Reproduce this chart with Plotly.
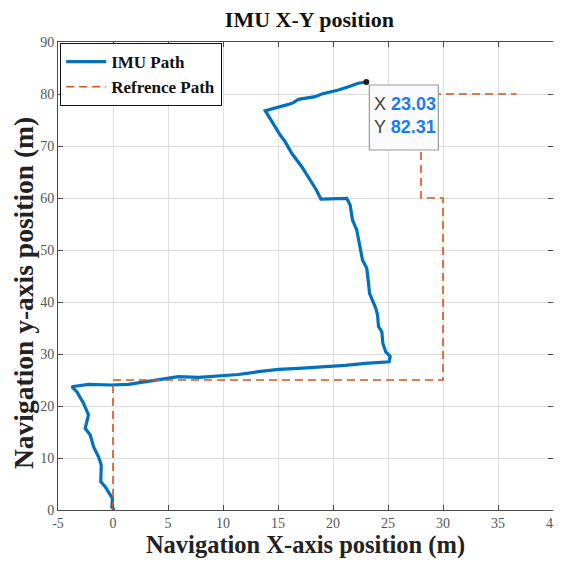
import plotly.graph_objects as go

# IMU path
imu_x = [0.10, -0.11, -0.05, -0.25, -0.71, -1.11, -1.07, -1.32, -1.77, -2.07, -2.53, -2.23, -2.68,
         -3.29, -3.75, -2.23, -0.14, 1.41, 2.02, 3.23, 5.95, 7.8, 11.4, 13.23, 15.05, 16.86, 21.1,
         22.93, 25.1, 25.2, 24.8, 24.53, 24.44, 24.14, 24.05, 23.89, 23.59, 23.32, 23.23, 23.07,
         22.68, 22.47, 22.16, 21.77, 21.56, 21.25, 18.9, 18.5, 17.93, 17.16, 16.25, 15.65, 15.2,
         14.44, 13.84, 15.95, 16.41, 16.86, 18.38, 18.98, 20.5, 21.4, 22.3, 23.03]
imu_y = [0.0, 0.63, 2.25, 2.88, 4.48, 5.44, 8.65, 10.25, 12.17, 14.42, 15.71, 18.27, 20.52,
         22.75, 23.71, 24.17, 24.04, 24.17, 24.37, 24.87, 25.63, 25.5, 26.06, 26.6, 27.06, 27.25, 27.8,
         28.2, 28.5, 29.5, 30.4, 32.06, 34.29, 35.25, 37.5, 38.79, 40.38, 41.67, 43.6, 46.48,
         48.08, 50.33, 53.85, 55.77, 58.65, 59.94, 59.8, 61.5, 63.46, 66.02, 68.6, 70.83, 72.1,
         74.67, 76.79, 78.0, 78.33, 78.98, 79.48, 80.0, 80.77, 81.4, 82.06, 82.31]

# Reference path
ref_x = [0, 0, 30, 30, 28, 28, 36.7]
ref_y = [0, 25, 25, 60, 60, 80, 80]

# Data tip
tip_x = 23.03
tip_y = 82.31

x_ticks = [-5, 0, 5, 10, 15, 20, 25, 30, 35, 40]
y_ticks = [0, 10, 20, 30, 40, 50, 60, 70, 80, 90]

serif = "Liberation Serif"

fig = go.Figure()
fig.add_trace(go.Scatter(x=imu_x, y=imu_y, mode="lines", name="<b>IMU Path</b>",
                         line=dict(color="#0072BD", width=3.2)))
fig.add_trace(go.Scatter(x=ref_x, y=ref_y, mode="lines", name="<b>Refrence Path</b>",
                         line=dict(color="#D95319", width=1.6, dash="8px,5px")))
fig.add_trace(go.Scatter(x=[tip_x], y=[tip_y], mode="markers", showlegend=False,
                         marker=dict(color="#222222", size=6)))

# data tip box
fig.add_shape(type="rect", xref="x", yref="y", xsizemode="pixel", ysizemode="pixel",
              xanchor=tip_x, yanchor=tip_y, x0=3, x1=72, y0=-3, y1=-68,
              fillcolor="#fbfbfe", line=dict(color="#9a9a9a", width=1.2), layer="above")
fig.add_annotation(x=tip_x, y=tip_y, xref="x", yref="y", showarrow=False,
                   xanchor="left", yanchor="top", xshift=6, yshift=-10, align="left",
                   text=("<span style='color:#404040'>X</span> <b><span style='color:#1a7cf5'>23.03</span></b><br>"
                         "<span style='color:#404040'>Y</span> <b><span style='color:#1a7cf5'>82.31</span></b>"),
                   font=dict(family="Liberation Sans", size=18))

# y-axis title as annotation (sits slightly below plot centre)
fig.add_annotation(x=0, y=0.5, xref="paper", yref="paper", showarrow=False,
                   xanchor="center", yanchor="middle", xshift=-35, yshift=-17,
                   textangle=-90, text="<b>Navigation y-axis position (m)</b>",
                   font=dict(family=serif, size=27.5, color="#222222"))

axis_common = dict(showgrid=True, gridcolor="#dedede", gridwidth=1, zeroline=False,
                   showline=True, linecolor="#4a4a4a", linewidth=1, mirror="ticks",
                   ticks="inside", ticklen=5, tickcolor="#4a4a4a", ticklabeloverflow="allow",
                   automargin=False,
                   tickfont=dict(family=serif, size=14, color="#555555"))

# page body adds an 8px margin, so the figure is drawn 8px smaller and offset
fig.update_layout(
    width=553, height=567,
    margin=dict(l=50, r=8, t=34, b=65),
    paper_bgcolor="white", plot_bgcolor="white",
    title=dict(text="<b>IMU X-Y position</b>", x=0.545, xanchor="center",
               y=1 - 11 / 567, yanchor="middle", yref="container",
               font=dict(family=serif, size=22, color="#111111")),
    xaxis=dict(range=[-5, 40], tickvals=x_ticks, ticktext=[str(v) for v in x_ticks],
               title=dict(text="<b>Navigation X-axis position (m)</b>", standoff=5,
                          font=dict(family=serif, size=24.5, color="#222222")),
               **axis_common),
    yaxis=dict(range=[0, 90], tickvals=y_ticks, ticktext=[str(v) for v in y_ticks],
               **axis_common),
    legend=dict(x=0.004, y=0.998, xanchor="left", yanchor="top",
                bgcolor="white", bordercolor="#111111", borderwidth=1.2,
                font=dict(family=serif, size=17, color="#111111"),
                itemwidth=40, tracegroupgap=0),
    showlegend=True,
)

fig.write_html("out.html")
